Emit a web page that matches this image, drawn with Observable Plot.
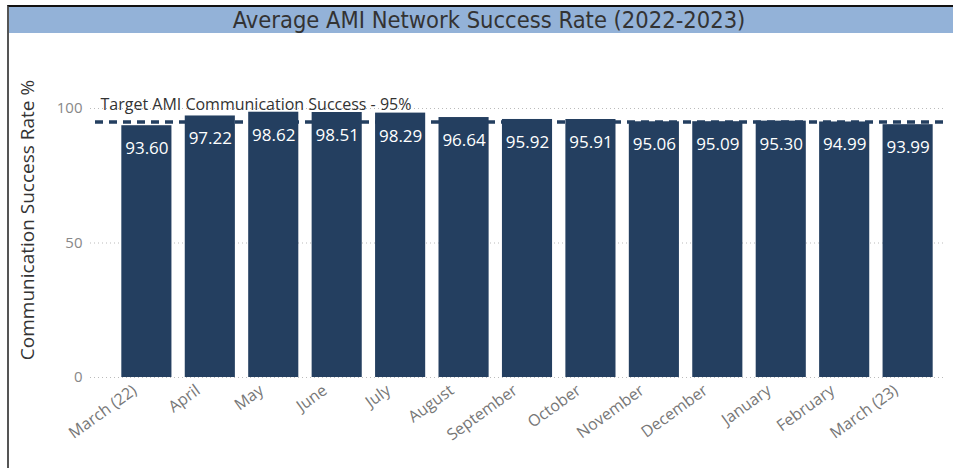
<!DOCTYPE html>
<html>
<head>
<meta charset="utf-8">
<script src="https://cdn.jsdelivr.net/npm/d3@7"></script>
<script src="https://cdn.jsdelivr.net/npm/@observablehq/plot@0.6"></script>
<style>
  html, body { margin: 0; padding: 0; background: #fff; }
  #wrap { position: relative; width: 953px; height: 468px; overflow: hidden; }
  #frame { position: absolute; left: 7px; top: 5px; right: 0; bottom: 0;
           border-left: 2px solid #555; border-top: 2px solid #111; }
  #title { position: absolute; left: 9px; top: 7px; right: 0; height: 26px; padding-left: 16px;
           background: #93b2d8; color: #333; text-align: center;
           font-family: "DejaVu Sans", sans-serif; font-stretch: condensed;
           font-size: 23.5px; line-height: 27px; }
  #chart { position: absolute; left: 0; top: 33px; }
  #ylabel { position: absolute; left: 27px; top: 220px; width: 400px; margin-left: -200px;
            text-align: center; transform: translate(0, -50%) rotate(-90deg);
            font-family: 'Open Sans', 'Noto Sans', sans-serif; font-size: 19px; color: #333;
            line-height: 24px; white-space: nowrap; }
</style>
</head>
<body>
<div id="wrap">
  <div id="frame"></div>
  <div id="title">Average AMI Network Success Rate (2022-2023)</div>
  <div id="chart"></div>
  <div id="ylabel"></div>
</div>
<script>
const months = ["March (22)", "April", "May", "June", "July", "August", "September", "October", "November", "December", "January", "February", "March (23)"];
const successRate = [93.60, 97.22, 98.62, 98.51, 98.29, 96.64, 95.92, 95.91, 95.06, 95.09, 95.30, 94.99, 93.99];
const target = 95;
const targetLabel = "Target AMI Communication Success - 95%";
const yTicks = [0, 50, 100];
const yLabel = "Communication Success Rate %";

const data = months.map((m, i) => ({month: m, value: successRate[i]}));
const font = "'Open Sans', 'Noto Sans', sans-serif";

document.getElementById("ylabel").textContent = yLabel;

const chart = Plot.plot({
  width: 953,
  height: 435,
  marginLeft: 108,
  marginRight: 7,
  marginTop: 75,
  marginBottom: 91,
  style: {fontFamily: font, background: "transparent", overflow: "visible"},
  x: {domain: months, paddingInner: 0.21, paddingOuter: 0.21, round: false, label: null},
  y: {domain: [0, 100], label: null},
  marks: [
    Plot.ruleY(yTicks, {stroke: "#bbb", strokeDasharray: "1,3", insetLeft: -18}),
    Plot.ruleY([target], {stroke: "#243f60", strokeWidth: 3.5, strokeDasharray: "8,6", insetLeft: -13}),
    Plot.barY(data, {x: "month", y: "value", fill: "#243f60"}),
    Plot.text(data, {x: "month", y: "value", text: d => d.value.toFixed(2), fill: "white", fontSize: 17, dy: 23}),
    Plot.text([targetLabel], {y: [target], text: d => d, frameAnchor: "left", textAnchor: "start", dx: -8, dy: -17, fontSize: 16, fill: "#333"}),
    Plot.axisY({ticks: yTicks, tickSize: 0, tickPadding: 26, fontSize: 15, color: "#888", label: null}),
    Plot.axisX({tickSize: 0, tickRotate: -36, tickPadding: 8, dx: -12, dy: 3, fontSize: 16, color: "#777", label: null})
  ]
});
document.getElementById("chart").append(chart);
</script>
</body>
</html>
